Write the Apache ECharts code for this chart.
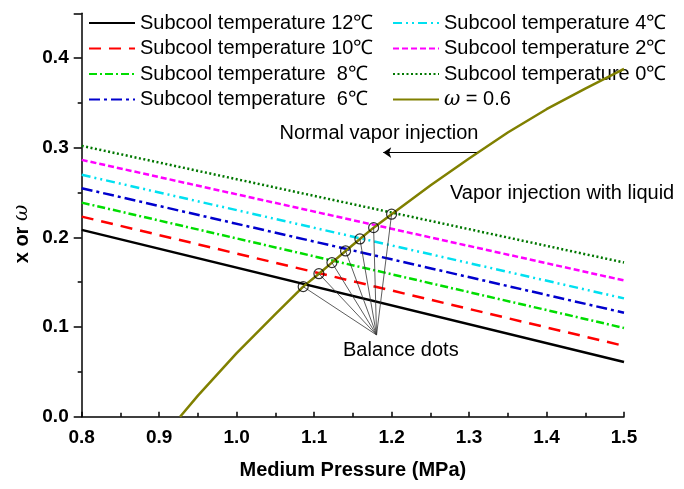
<!DOCTYPE html>
<html>
<head>
<meta charset="utf-8">
<script src="https://cdn.jsdelivr.net/npm/echarts@6/dist/echarts.min.js"></script>
<style>
  html, body { margin: 0; padding: 0; background: #fff; }
  #chart { width: 684px; height: 489px; }
</style>
</head>
<body>
<div id="chart"></div>
<script>
// x = medium pressure (MPa); each subcool line read at both ends
const pressEnds = [0.8, 1.5];
const sub12 = [0.2084, 0.061];
const sub10 = [0.2232, 0.079];
const sub8 = [0.2388, 0.099];
const sub6 = [0.2549, 0.116];
const sub4 = [0.2698, 0.132];
const sub2 = [0.2865, 0.152];
const sub0 = [0.3021, 0.172];

// omega = 0.6 curve
const omegaX = [0.927, 0.95, 1.0, 1.05, 1.0859, 1.1062, 1.123, 1.1406, 1.1591, 1.1768, 1.2, 1.25, 1.3, 1.35, 1.4, 1.45, 1.5];
const omegaY = [0.0, 0.0235, 0.071, 0.1145, 0.1451, 0.1595, 0.1719, 0.1849, 0.1983, 0.2109, 0.2259, 0.258, 0.288, 0.317, 0.343, 0.366, 0.388];

// balance dots (intersections) and where their leader lines meet
const dotX = [1.0859, 1.1062, 1.123, 1.1406, 1.1591, 1.1768, 1.2];
const dotY = [0.1451, 0.1595, 0.1719, 0.1849, 0.1983, 0.2109, 0.2259];
const hub = [1.1806, 0.0912];
const arrowFrom = [1.3097, 0.2946];
const arrowTo = [1.1892, 0.2946];

const xTicks = { min: 0.8, max: 1.5, step: 0.1 };
const yTicks = { min: 0, max: 0.45, step: 0.1 };

const FONT = "'Liberation Sans', Arial, sans-serif";
const pair = ys => pressEnds.map((x, i) => [x, ys[i]]);

function lineSeries(name, ys, color, dash, width) {
  return {
    name, type: "line", data: pair(ys), symbol: "none", z: 3,
    lineStyle: { color, width: width || 2.5, type: dash, cap: "butt" },
    itemStyle: { color },
  };
}

const legendBase = {
  top: 13, orient: "vertical", padding: 0, itemGap: 5.5,
  itemWidth: 46, itemHeight: 14,
  itemStyle: { opacity: 0 },
  textStyle: { fontFamily: FONT, fontSize: 20, color: "#000", lineHeight: 20,
    rich: { w: { fontFamily: "'DejaVu Serif', serif", fontStyle: "italic", fontSize: 20 } } },
};

const chart = echarts.init(document.getElementById("chart"));
chart.setOption({
  animation: false,
  grid: { left: 81.7, right: 60, top: 13.3, bottom: 72.3 },
  xAxis: {
    type: "value", min: xTicks.min, max: xTicks.max, interval: xTicks.step,
    name: "Medium Pressure (MPa)", nameLocation: "middle", nameGap: 44,
    nameTextStyle: { fontFamily: FONT, fontWeight: "bold", fontSize: 20, color: "#000" },
    axisLine: { lineStyle: { color: "#000", width: 1.5 } },
    axisTick: { inside: true, length: 5, lineStyle: { color: "#000", width: 1.5 } },
    minorTick: { show: true, splitNumber: 2, length: 4, lineStyle: { color: "#000", width: 1.5 } },
    axisLabel: { margin: 12, fontFamily: FONT, fontWeight: "bold", fontSize: 19, color: "#000",
      formatter: v => v.toFixed(1) },
    splitLine: { show: false },
  },
  yAxis: {
    type: "value", min: yTicks.min, max: yTicks.max, interval: yTicks.step,
    axisLine: { show: true, lineStyle: { color: "#000", width: 1.5 } },
    axisTick: { show: true, length: 8, lineStyle: { color: "#000", width: 1.5 } },
    minorTick: { show: true, splitNumber: 2, length: 4, lineStyle: { color: "#000", width: 1.5 } },
    axisLabel: { margin: 13, fontFamily: FONT, fontWeight: "bold", fontSize: 19, color: "#000",
      showMaxLabel: false, formatter: v => v.toFixed(1) },
    splitLine: { show: false },
  },
  legend: [
    Object.assign({}, legendBase, {
      left: 88,
      data: ["Subcool temperature 12℃", "Subcool temperature 10℃", "Subcool temperature  8℃", "Subcool temperature  6℃"],
    }),
    Object.assign({}, legendBase, {
      left: 392,
      formatter: n => n.startsWith("ω") ? "{w|ω} = 0.6" : n,
      data: ["Subcool temperature 4℃", "Subcool temperature 2℃", "Subcool temperature 0℃", "ω = 0.6"],
    }),
  ],
  graphic: [
    {
      type: "text", x: 22, y: 234, rotation: Math.PI / 2,
      style: {
        text: "{b|x or }{w|ω}", align: "center", verticalAlign: "middle",
        rich: {
          b: { fontFamily: FONT, fontWeight: "bold", fontSize: 20, fill: "#000" },
          w: { fontFamily: "'DejaVu Serif', serif", fontStyle: "italic", fontSize: 20, fill: "#000" },
        },
      },
    },
    { type: "text", x: 379, y: 133,
      style: { text: "Normal vapor injection", fontFamily: FONT, fontSize: 20, fill: "#000", align: "center", verticalAlign: "middle" } },
    { type: "text", x: 450, y: 193,
      style: { text: "Vapor injection with liquid", fontFamily: FONT, fontSize: 20, fill: "#000", align: "left", verticalAlign: "middle" } },
    { type: "text", x: 343, y: 350,
      style: { text: "Balance dots", fontFamily: FONT, fontSize: 20, fill: "#000", align: "left", verticalAlign: "middle" } },
  ],
  series: [
    lineSeries("Subcool temperature 12℃", sub12, "#000000", "solid", 2.5),
    lineSeries("Subcool temperature 10℃", sub10, "#ff0000", [12, 8]),
    lineSeries("Subcool temperature  8℃", sub8, "#00dd00", [8, 3, 2, 3]),
    lineSeries("Subcool temperature  6℃", sub6, "#0000cd", [11, 4, 3, 4]),
    lineSeries("Subcool temperature 4℃", sub4, "#00e0f0", [9, 4, 2, 4, 2, 4]),
    lineSeries("Subcool temperature 2℃", sub2, "#ff00ff", [6, 3]),
    lineSeries("Subcool temperature 0℃", sub0, "#007700", [2, 2.5]),
    {
      name: "ω = 0.6", type: "line", symbol: "none", z: 4,
      data: omegaX.map((x, i) => [x, omegaY[i]]),
      lineStyle: { color: "#808000", width: 2.5 }, itemStyle: { color: "#808000" },
      markLine: {
        silent: true, symbol: ["none", "arrow"], symbolSize: 8, label: { show: false },
        lineStyle: { color: "#000", width: 1, type: "solid" },
        data: [[{ coord: arrowFrom }, { coord: arrowTo }]],
      },
    },
    {
      name: "dots", type: "scatter", z: 5, symbol: "circle", symbolSize: 10,
      data: dotX.map((x, i) => [x, dotY[i]]),
      itemStyle: { color: "rgba(0,0,0,0)", borderColor: "#000", borderWidth: 1.2 },
      markLine: {
        silent: true, symbol: "none", label: { show: false },
        lineStyle: { color: "#333", width: 0.8, type: "solid" },
        data: dotX.map((x, i) => [{ coord: [x, dotY[i]] }, { coord: hub }]),
      },
    },
  ],
});
</script>
</body>
</html>
